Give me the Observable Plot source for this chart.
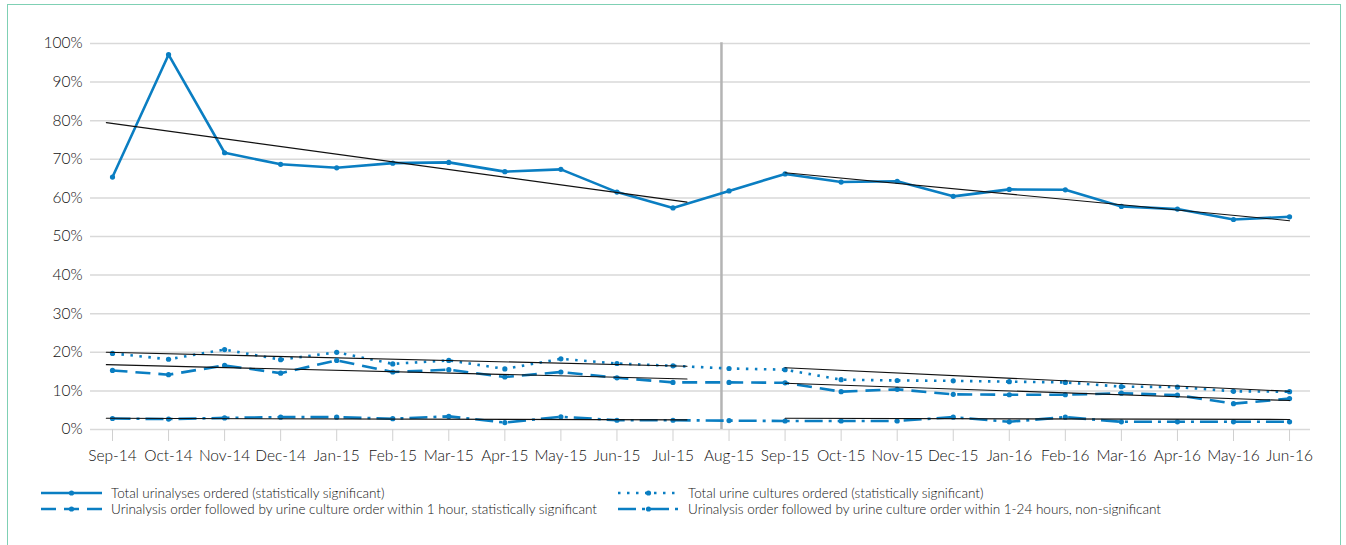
<!DOCTYPE html>
<html>
<head>
<meta charset="utf-8">
<script src="https://cdn.jsdelivr.net/npm/d3@7"></script>
<script src="https://cdn.jsdelivr.net/npm/@observablehq/plot@0.6"></script>
<style>
  html, body { margin: 0; padding: 0; background: #fff; overflow: hidden; }
  body { width: 1346px; height: 545px; position: relative; font-family: Lato, "Open Sans", sans-serif; }
  #frame { position: absolute; left: 7px; top: 4px; width: 1334px; height: 620px; border: 1.5px solid #7fd0b4; box-sizing: border-box; }
  #chart { position: absolute; left: 0; top: 0; }
  #legend { position: absolute; left: 0; top: 484px; width: 1346px; font-size: 13.5px; font-weight: 300; color: #111; }
  .item { position: absolute; display: flex; align-items: center; white-space: nowrap; height: 16px; }
  .item svg { margin-right: 8px; }
</style>
</head>
<body>
<div id="frame"></div>
<div id="chart"></div>
<div id="legend"></div>
<script>
// ---- data ----
const months = ["Sep-14","Oct-14","Nov-14","Dec-14","Jan-15","Feb-15","Mar-15","Apr-15","May-15","Jun-15","Jul-15","Aug-15","Sep-15","Oct-15","Nov-15","Dec-15","Jan-16","Feb-16","Mar-16","Apr-16","May-16","Jun-16"];
const totalUrinalyses = [65.4,97.1,71.7,68.7,67.8,69.0,69.2,66.8,67.4,61.5,57.4,61.8,66.2,64.1,64.3,60.4,62.2,62.1,57.8,57.1,54.4,55.1];
const totalCultures   = [19.7,18.2,20.7,18.1,20.0,17.0,17.9,15.7,18.3,17.1,16.5,15.8,15.5,12.9,12.7,12.6,12.4,12.2,11.1,11.0,9.9,9.8];
const ua1h            = [15.3,14.2,16.6,14.6,17.9,14.9,15.5,13.6,14.9,13.4,12.2,12.2,12.1,9.8,10.4,9.1,9.0,9.0,9.4,8.9,6.7,8.0];
const ua24h           = [2.85,2.7,3.0,3.2,3.2,2.8,3.4,1.8,3.3,2.4,2.4,2.3,2.2,2.2,2.2,3.2,2.0,3.2,2.0,2.0,2.0,2.0];
const yTicks = [0,10,20,30,40,50,60,70,80,90,100];
// trend lines (month index positions, values in %)
const preTrendX  = [-0.11, 10.25];
const postTrendX = [12.0, 21.0];
const trendUA    = {pre: [79.5, 58.9], post: [66.5, 54.1]};
const trendCult  = {pre: [20.0, 16.4], post: [16.0, 9.9]};
const trend1h    = {pre: [16.8, 13.1], post: [12.0, 7.5]};
const trend24h   = {pre: [2.9, 2.5],   post: [2.9, 2.6]};
const interventionX = 10.865;
const legendLabels = [
  "Total urinalyses ordered (statistically significant)",
  "Total urine cultures ordered (statistically significant)",
  "Urinalysis order followed by urine culture order within 1 hour, statistically significant",
  "Urinalysis order followed by urine culture order within 1-24 hours, non-significant"
];

// ---- styles ----
const blue = "#0a7ec2";
const series = [
  {values: totalUrinalyses, dash: null,        trend: trendUA},
  {values: totalCultures,   dash: "2.5,6.5",   trend: trendCult},
  {values: ua1h,            dash: "15,8",      trend: trend1h},
  {values: ua24h,           dash: "18,6,3,6",  trend: trend24h}
];

const marks = [
  Plot.gridY(yTicks, {y: d => d / 100, stroke: "#d9d9d9", strokeOpacity: 1, strokeWidth: 1.5}),
  Plot.axisY(yTicks, {y: d => d / 100, tickSize: 0, tickPadding: 8, tickFormat: d => d + "%", fontSize: 15.5, fontWeight: 300}),
  Plot.axisX(d3.range(months.length), {tickSize: 12, tickPadding: 8, tickFormat: i => months[i], stroke: "#d0d0d0", fontSize: 15.5, fontWeight: 300}),
  Plot.ruleX([interventionX], {y1: 0, y2: 1.002, stroke: "#b4b4b4", strokeWidth: 2.5})
];

for (const s of series) {
  const rows = s.values.map((v, i) => ({i, v: v / 100}));
  const tr = [
    {x: preTrendX[0], y: s.trend.pre[0] / 100, g: "pre"},
    {x: preTrendX[1], y: s.trend.pre[1] / 100, g: "pre"},
    {x: postTrendX[0], y: s.trend.post[0] / 100, g: "post"},
    {x: postTrendX[1], y: s.trend.post[1] / 100, g: "post"}
  ];
  marks.push(Plot.line(rows, {x: "i", y: "v", stroke: blue, strokeWidth: 2.6, strokeDasharray: s.dash, strokeLinecap: "butt", strokeLinejoin: "round"}));
  marks.push(Plot.dot(rows, {x: "i", y: "v", r: 2.6, fill: blue, stroke: "none"}));
  marks.push(Plot.line(tr, {x: "x", y: "y", z: "g", stroke: "#111", strokeWidth: 1.1}));
}

const chart = Plot.plot({
  width: 1346,
  height: 475,
  marginLeft: 90,
  marginRight: 36,
  marginTop: 43,
  marginBottom: 46,
  x: {domain: [-0.3925, 21.374], axis: null},
  y: {domain: [0, 1], axis: null},
  style: {fontFamily: "Lato, 'Open Sans', sans-serif", color: "#111", background: "transparent", overflow: "visible"},
  marks
});
document.getElementById("chart").appendChild(chart);

// ---- legend ----
const legend = d3.select("#legend");
const pos = [
  {left: 41, top: 1},
  {left: 618, top: 1},
  {left: 41, top: 17},
  {left: 618, top: 17}
];
series.forEach((s, k) => {
  const item = legend.append("div").attr("class", "item")
    .style("left", pos[k].left + "px").style("top", pos[k].top + "px");
  const svg = item.append("svg").attr("width", 62).attr("height", 10);
  svg.append("line").attr("x1", 0).attr("x2", 61).attr("y1", 5).attr("y2", 5)
    .attr("stroke", blue).attr("stroke-width", 2.6)
    .attr("stroke-dasharray", s.dash);
  svg.append("circle").attr("cx", 30.5).attr("cy", 5).attr("r", 2.6).attr("fill", blue);
  item.append("span").text(legendLabels[k]);
});
</script>
</body>
</html>
